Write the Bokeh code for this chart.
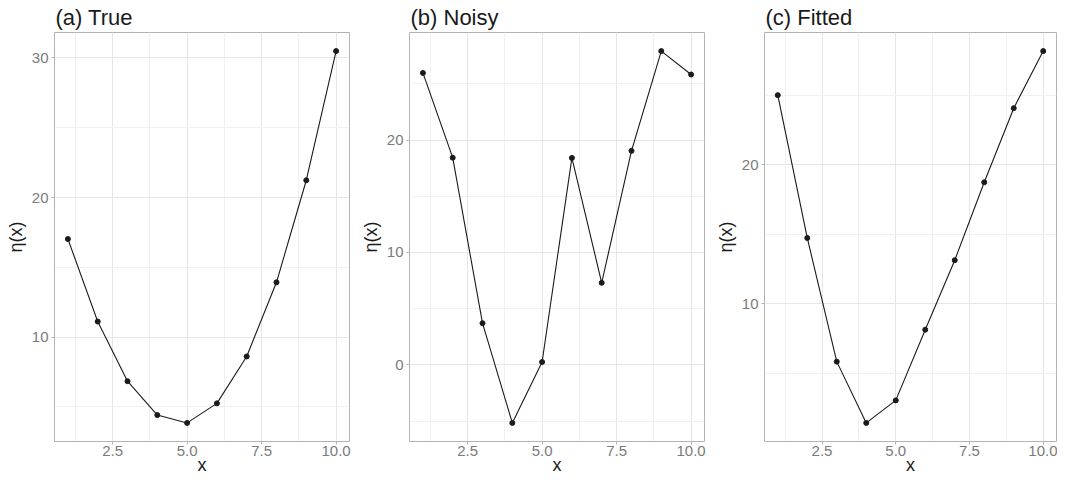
from bokeh.plotting import figure
from bokeh.layouts import row
from bokeh.models import FixedTicker, Range1d, NumeralTickFormatter
from bokeh.embed import file_html
from bokeh.resources import INLINE

# ---- data ----
x_vals = [1, 2, 3, 4, 5, 6, 7, 8, 9, 10]
true_eta = [17.03, 11.12, 6.85, 4.42, 3.86, 5.26, 8.62, 13.93, 21.24, 30.49]
noisy_eta = [25.97, 18.43, 3.71, -5.16, 0.26, 18.41, 7.30, 19.04, 27.91, 25.83]
fitted_eta = [25.00, 14.72, 5.82, 1.41, 3.03, 8.12, 13.12, 18.73, 24.06, 28.17]

titles = ["(a) True", "(b) Noisy", "(c) Fitted"]
x_major = [2.5, 5.0, 7.5, 10.0]
x_minor = [1.25, 3.75, 6.25, 8.75]
y_major = [[10, 20, 30], [0, 10, 20], [10, 20]]
y_minor = [[5, 15, 25], [-5, 5, 15, 25], [5, 15, 25]]
series = [true_eta, noisy_eta, fitted_eta]
x_title = "x"
y_title = "η(x)"

FONT = "Liberation Sans"
widths = [356, 356, 345]
left_b = [54, 53, 50]
right_b = [7, 8, 1]
FIG_H = 477


def expand(lo, hi, f=0.05):
    s = hi - lo
    return lo - f * s, hi + f * s


figs = []
for i in range(3):
    ys = series[i]
    xr = expand(min(x_vals), max(x_vals))
    yr = expand(min(ys), max(ys))
    p = figure(width=widths[i], height=FIG_H, output_backend="svg",
               toolbar_location=None,
               x_range=Range1d(*xr), y_range=Range1d(*yr),
               min_border_left=left_b[i], min_border_right=right_b[i],
               min_border_top=0, min_border_bottom=0)
    p.title.text = titles[i]
    p.title.text_font = FONT
    p.title.text_font_size = "22px"
    p.title.text_font_style = "normal"
    p.title.text_color = "#1A1A1A"
    p.title.standoff = 5
    p.title.offset = 1

    p.outline_line_color = "#B3B3B3"
    p.outline_line_width = 1
    p.background_fill_color = "white"
    p.border_fill_color = "white"

    p.xaxis.ticker = FixedTicker(ticks=x_major, minor_ticks=x_minor)
    p.yaxis.ticker = FixedTicker(ticks=y_major[i], minor_ticks=y_minor[i])
    p.xaxis.formatter = NumeralTickFormatter(format="0.0")
    p.xaxis.axis_label = x_title
    p.yaxis.axis_label = y_title

    for ax in (p.xaxis[0], p.yaxis[0]):
        ax.axis_line_color = None
        ax.major_tick_line_color = "#B3B3B3"
        ax.major_tick_out = 3
        ax.major_tick_in = 0
        ax.minor_tick_line_color = None
        ax.major_label_text_font = FONT
        ax.major_label_text_font_size = "15px"
        ax.major_label_text_color = "#7A7A7A"
        ax.major_label_standoff = 2
        ax.axis_label_text_font = FONT
        ax.axis_label_text_font_size = "18px"
        ax.axis_label_text_font_style = "normal"
        ax.axis_label_text_color = "#1A1A1A"
        ax.axis_label_standoff = 3
    p.xaxis.major_label_standoff = 0
    p.xaxis.axis_label_standoff = -4

    for g in (p.xgrid[0], p.ygrid[0]):
        g.grid_line_color = "#E6E6E6"
        g.grid_line_width = 1
        g.minor_grid_line_color = "#F1F1F1"
        g.minor_grid_line_width = 1

    p.line(x_vals, ys, line_color="#1A1A1A", line_width=1.1)
    p.scatter(x_vals, ys, size=5, fill_color="#1A1A1A", line_color="#1A1A1A")
    figs.append(p)

layout = row(*figs, spacing=0)
open("out.html", "w").write(file_html(layout, INLINE))
